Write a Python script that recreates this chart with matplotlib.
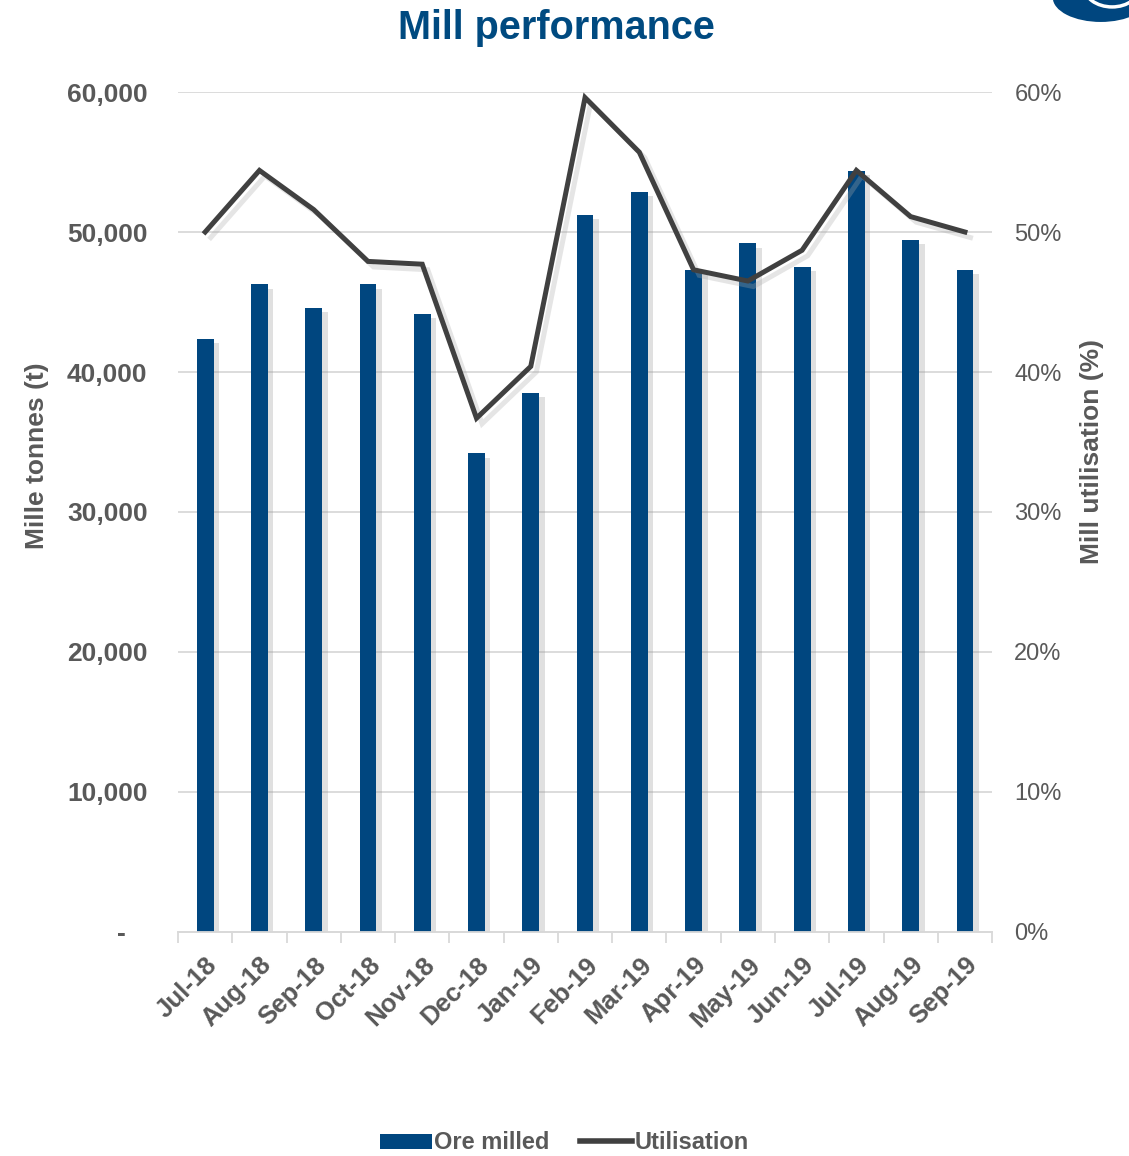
import matplotlib.pyplot as plt
import matplotlib.patheffects as pe
from matplotlib.patches import Ellipse, Patch
from matplotlib.lines import Line2D
from matplotlib.ticker import FuncFormatter, MultipleLocator

plt.rcParams["font.family"] = ["Liberation Sans", "DejaVu Sans"]

months = [
    "Jul-18", "Aug-18", "Sep-18", "Oct-18", "Nov-18", "Dec-18", "Jan-19",
    "Feb-19", "Mar-19", "Apr-19", "May-19", "Jun-19", "Jul-19", "Aug-19",
    "Sep-19",
]
ore_milled = [
    42350, 46260, 44550, 46260, 44120, 34190, 38520,
    51210, 52880, 47290, 49190, 47520, 54380, 49430,
    47290,
]
utilisation = [
    50.0, 54.4, 51.6, 47.9, 47.7, 36.7, 40.4,
    59.6, 55.7, 47.3, 46.5, 48.7, 54.4, 51.1,
    50.0,
]

BLUE = "#00467F"
LINE = "#404040"
GREY = "#595959"

fig = plt.figure(figsize=(11.29, 11.56), dpi=100)
ax = fig.add_axes([0.1577, 0.1938, 0.7210, 0.7266])
ax2 = ax.twinx()

x = list(range(len(months)))
shadow_bar = [pe.SimplePatchShadow(offset=(4, -3), shadow_rgbFace="#999999", alpha=0.3), pe.Normal()]
ax.bar(x, ore_milled, width=0.31, color=BLUE, zorder=3, path_effects=shadow_bar)

shadow_line = [pe.SimpleLineShadow(offset=(4, -4), shadow_color="#aaaaaa", alpha=0.3), pe.Normal()]
ax2.plot(x, utilisation, color=LINE, linewidth=3.6, solid_joinstyle="miter",
         zorder=4, path_effects=shadow_line)

ax.set_xlim(-0.5, len(months) - 0.5)
ax.set_ylim(0, 60000)
ax2.set_ylim(0, 60)

# accounting style: zero shown as a dash
ax.yaxis.set_major_locator(MultipleLocator(10000))
ax.yaxis.set_major_formatter(FuncFormatter(lambda v, _: "-   " if v == 0 else f"{v:,.0f}"))
ax2.yaxis.set_major_locator(MultipleLocator(10))
ax2.yaxis.set_major_formatter(FuncFormatter(lambda v, _: f"{v:.0f}%"))

ax.grid(axis="y", color="#D9D9D9", linewidth=1.3, zorder=0)
ax.set_axisbelow(True)
ax2.set_zorder(ax.get_zorder() + 1)
ax2.patch.set_visible(False)

for a in (ax, ax2):
    for side in ("top", "left", "right"):
        a.spines[side].set_visible(False)
    a.spines["bottom"].set_color("#D9D9D9")
    a.spines["bottom"].set_linewidth(1.3)

ax.set_xticks(x)
ax.set_xticklabels(months, rotation=45, ha="right", va="top", rotation_mode="anchor",
                   fontsize=18.5, fontweight="bold", color=GREY)
ax.tick_params(axis="x", which="major", length=0, pad=15)
ax.set_xticks([i - 0.5 for i in range(len(months) + 1)], minor=True)
ax.tick_params(axis="x", which="minor", length=8, width=1.3, color="#D9D9D9", direction="out")

ax.tick_params(axis="y", length=0, pad=22, labelsize=19, labelcolor=GREY)
for lbl in ax.get_yticklabels():
    lbl.set_fontweight("bold")
ax2.tick_params(axis="y", length=0, pad=16, labelsize=17, labelcolor=GREY)

fig.text(0.4925, 0.976, "Mill performance", ha="center", va="center",
         fontsize=28.5, fontweight="bold", color="#004A80")
fig.text(0.033, 0.606, "Mille tonnes (t)", rotation=90, ha="center", va="center",
         fontsize=19, fontweight="bold", color=GREY)
fig.text(0.967, 0.609, "Mill utilisation (%)", rotation=90, ha="center", va="center",
         fontsize=19, fontweight="bold", color=GREY)

# corner logo mark
fig.patches.append(Ellipse((0.975, 1.002), 0.085, 0.042, transform=fig.transFigure,
                           facecolor=BLUE, edgecolor="none"))
fig.patches.append(Ellipse((0.985, 1.012), 0.05, 0.036, transform=fig.transFigure,
                           facecolor="none", edgecolor="white", linewidth=2.5))

handles = [
    Patch(facecolor=BLUE, edgecolor="none"),
    Line2D([0], [0], color=LINE, linewidth=4),
]
leg = fig.legend(handles, ["Ore milled", "Utilisation"], loc="lower center",
                 bbox_to_anchor=(0.5, -0.017), ncol=2, frameon=False,
                 handlelength=2.2, handleheight=0.6, handletextpad=0.1,
                 columnspacing=1.3, prop={"size": 17, "weight": "bold"})
for t in leg.get_texts():
    t.set_color(GREY)

fig.savefig("out.png", dpi=100)
